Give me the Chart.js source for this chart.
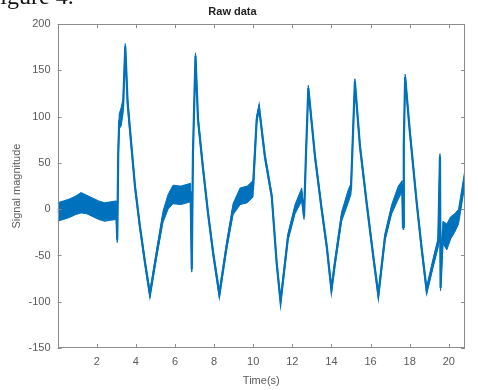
<!DOCTYPE html>
<html>
<head>
<meta charset="utf-8">
<script src="https://cdn.jsdelivr.net/npm/chart.js@4/dist/chart.umd.min.js"></script>
<style>
  html, body { margin: 0; padding: 0; background: #fff; overflow: hidden; }
  #wrap { position: relative; width: 478px; height: 390px; }
  #fig { position: absolute; left: -13px; top: -16px; font: 24px "Liberation Serif", "Times New Roman", serif; line-height: 24px; color: #111; white-space: nowrap; }
</style>
</head>
<body>
<div id="wrap">
  <canvas id="grafico" width="478" height="390"></canvas>
  <div id="fig">Figure 4.</div>
</div>
<script>
// valores (tempo em s, sinal, meia largura da faixa de ruido)
const tempo = [0.00, 0.30, 0.60, 0.90, 1.20, 1.50, 1.80, 2.10, 2.40, 2.70, 3.00, 3.05, 3.10, 3.15, 3.25, 3.35, 3.46, 3.58, 3.70, 3.96,
  4.21, 4.47, 4.72, 5.07, 5.39, 5.65, 5.90, 6.30, 6.80, 6.86, 6.92, 7.05, 7.18, 7.44, 7.69, 7.95, 8.27, 8.64, 8.97, 9.33,
  9.70, 9.99, 10.18, 10.30, 10.60, 10.95, 11.20, 11.40, 11.78, 12.14, 12.48, 12.60, 12.70, 12.82, 13.16, 13.50, 13.76, 14.00, 14.18, 14.52,
  14.86, 15.00, 15.20, 15.46, 15.80, 16.14, 16.40, 16.74, 17.08, 17.42, 17.62, 17.66, 17.70, 17.77, 18.00, 18.36, 18.60, 18.87, 19.20, 19.46,
  19.55, 19.58, 19.70, 19.90, 20.10, 20.30, 20.50, 20.83];
const sinal = [-3, -1, 1, 4, 7, 5, 2, -1, -3, -2, -1, -33, 60, 95, 100, 112, 176, 115, 86, 24,
  -19, -58, -92, -47, -8, 8, 16, 15, 18, -65, 60, 166, 97, 43, -4, -47, -92, -40, 0, 14,
  16, 22, 97, 110, 57, 14, -58, -100, -30, 0, 16, -8, 60, 131, 57, 0, -40, -87, -58, -8,
  14, 22, 138, 68, 7, -51, -93, -30, 0, 18, 25, -19, 70, 143, 86, 7, -40, -88, -58, -36,
  57, -85, -25, -30, -20, -15, -8, 35];
const ruido = [10, 10, 10, 10, 11, 10, 10, 10, 10, 10, 10, 3, 6, 8, 10, 8, 3, 5, 4, 3,
  3, 3, 4, 4, 6, 8, 10, 10, 10, 3, 4, 3, 4, 3, 3, 3, 4, 4, 6, 9,
  9, 9, 4, 3, 3, 3, 3, 4, 4, 5, 7, 3, 3, 3, 3, 3, 3, 4, 4, 5,
  7, 6, 3, 3, 3, 3, 4, 4, 5, 7, 6, 3, 3, 3, 3, 3, 3, 4, 5, 5,
  3, 3, 12, 14, 12, 10, 8, 8];
const ticksY = [-150, -100, -50, 0, 50, 100, 150, 200];
const ticksX = [2, 4, 6, 8, 10, 12, 14, 16, 18, 20];

const AZUL = '#0072BD';
const CINZA = '#8c8c8c';

Chart.defaults.font.family = '"Liberation Sans", Arial, sans-serif';
Chart.defaults.color = '#5a5a5a';

// caixa estilo matlab com ticks para dentro nos 4 lados
const caixaMatlab = {
  id: 'caixaMatlab',
  afterDatasetsDraw(chart) {
    const { ctx, chartArea: a, scales: { x, y } } = chart;
    ctx.save();
    ctx.strokeStyle = CINZA;
    ctx.lineWidth = 1;
    ctx.strokeRect(Math.round(a.left) + 0.5, Math.round(a.top) + 0.5, Math.round(a.right - a.left) - 1, Math.round(a.bottom - a.top) - 1);
    ctx.beginPath();
    ticksX.forEach(v => {
      const px = Math.round(x.getPixelForValue(v)) + 0.5;
      ctx.moveTo(px, a.bottom); ctx.lineTo(px, a.bottom - 4);
      ctx.moveTo(px, a.top); ctx.lineTo(px, a.top + 4);
    });
    ticksY.forEach(v => {
      const py = Math.round(y.getPixelForValue(v)) + 0.5;
      ctx.moveTo(a.left, py); ctx.lineTo(a.left + 4, py);
      ctx.moveTo(a.right, py); ctx.lineTo(a.right - 4, py);
    });
    ctx.stroke();
    ctx.restore();
  }
};

const pontos = (f) => tempo.map((t, i) => ({ x: t, y: f(i) }));

new Chart(document.getElementById('grafico'), {
  type: 'line',
  data: {
    datasets: [
      { data: pontos(i => sinal[i] + ruido[i]), borderColor: AZUL, borderWidth: 1, pointRadius: 0, fill: false },
      { data: pontos(i => sinal[i] - ruido[i]), borderColor: AZUL, borderWidth: 1, pointRadius: 0, fill: '-1', backgroundColor: AZUL },
      { data: pontos(i => sinal[i]), borderColor: AZUL, borderWidth: 2.2, pointRadius: 0, fill: false }
    ]
  },
  options: {
    responsive: false,
    animation: false,
    layout: { padding: { left: 0, right: 13, top: 0, bottom: 0 } },
    plugins: {
      legend: { display: false },
      tooltip: { enabled: false },
      title: { display: true, text: 'Raw data', color: '#222', font: { size: 11, weight: 'bold' }, padding: { top: 5, bottom: 6 } }
    },
    scales: {
      x: {
        type: 'linear', min: 0, max: 20.83,
        grid: { display: false, drawTicks: false },
        border: { display: false },
        afterBuildTicks: (s) => { s.ticks = ticksX.map(v => ({ value: v })); },
        afterFit: (s) => { s.height = 42; },
        ticks: { font: { size: 11 }, padding: 7, maxRotation: 0 },
        title: { display: true, text: 'Time(s)', font: { size: 11 }, padding: { top: 0, bottom: 2 } }
      },
      y: {
        min: -150, max: 200,
        grid: { display: false, drawTicks: false },
        border: { display: false },
        afterBuildTicks: (s) => { s.ticks = ticksY.map(v => ({ value: v })); },
        afterFit: (s) => { s.width = 57.6; },
        ticks: { font: { size: 11 }, padding: 7 },
        title: { display: true, text: 'Signal magnitude', font: { size: 11 }, padding: { top: 10, bottom: 0 } }
      }
    }
  },
  plugins: [caixaMatlab]
});
</script>
</body>
</html>
